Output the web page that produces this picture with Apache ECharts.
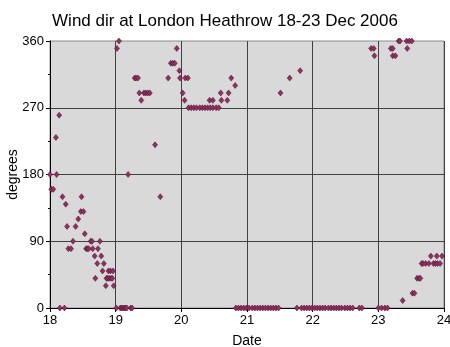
<!DOCTYPE html>
<html>
<head>
<meta charset="utf-8">
<script src="https://cdn.jsdelivr.net/npm/echarts@6/dist/echarts.min.js"></script>
<style>
  html, body { margin: 0; padding: 0; background: #ffffff; }
  #chart { width: 450px; height: 347px; }
</style>
</head>
<body>
<div id="chart"></div>
<script>
// Observation times, as day of December 2006 (decimal days)
const times = [
  18.00, 18.02, 18.05, 18.09, 18.10, 18.14, 18.15, 18.19, 18.22, 18.24,
  18.26, 18.28, 18.32, 18.35, 18.39, 18.43, 18.47, 18.48, 18.51, 18.53,
  18.55, 18.57, 18.59, 18.62, 18.64, 18.65, 18.68, 18.69, 18.72, 18.73,
  18.76, 18.78, 18.80, 18.82, 18.85, 18.86, 18.88, 18.89, 18.90, 18.92,
  18.93, 18.95, 18.96, 18.97, 19.01, 19.02, 19.05, 19.07, 19.09, 19.11,
  19.13, 19.15, 19.17, 19.19, 19.23, 19.25, 19.29, 19.31, 19.34, 19.36,
  19.39, 19.43, 19.46, 19.49, 19.52, 19.60, 19.68, 19.80, 19.84, 19.87,
  19.90, 19.93, 19.97, 19.98, 20.02, 20.05, 20.06, 20.10, 20.11, 20.15,
  20.19, 20.23, 20.28, 20.32, 20.36, 20.40, 20.43, 20.44, 20.48, 20.48,
  20.53, 20.57, 20.60, 20.61, 20.70, 20.72, 20.76, 20.82, 20.83, 20.87,
  20.91, 20.95, 20.99, 21.03, 21.08, 21.12, 21.16, 21.20, 21.24, 21.28,
  21.32, 21.36, 21.40, 21.44, 21.48, 21.51, 21.65, 21.76, 21.81, 21.83,
  21.87, 21.91, 21.95, 21.99, 22.03, 22.07, 22.11, 22.15, 22.19, 22.24,
  22.28, 22.32, 22.36, 22.40, 22.44, 22.49, 22.53, 22.57, 22.61, 22.71,
  22.75, 22.89, 22.93, 22.94, 23.00, 23.05, 23.10, 23.14, 23.19, 23.22,
  23.22, 23.26, 23.31, 23.33, 23.37, 23.43, 23.44, 23.47, 23.51, 23.52,
  23.55, 23.59, 23.62, 23.64, 23.66, 23.68, 23.72, 23.77, 23.80, 23.84,
  23.87, 23.89, 23.90, 23.94, 23.97
];

// Wind direction at each observation (degrees)
const directions = [
  180, 160, 160, 230, 180, 260,   0, 150,   0, 140,
  110,  80,  80,  90, 110, 120, 130, 150, 130, 100,
   80,  80,  80,  90,  90,  80,  70,  40,  60,  80,
   90,  70,  50,  60,  30,  40,  40,  50,  40,  50,
   40,  40,  50,  30,   0, 350, 360,   0,   0,   0,
    0,   0,   0, 180,   0,   0, 310, 310, 310, 290,
  280, 290, 290, 290, 290, 220, 150, 310, 330, 330,
  330, 350, 320, 310, 290, 280, 310, 310, 270, 270,
  270, 270, 270, 270, 270, 270, 280, 270, 280, 270,
  270, 270, 290, 280, 280, 290, 310, 300,   0,   0,
    0,   0,   0,   0,   0,   0,   0,   0,   0,   0,
    0,   0,   0,   0,   0, 290, 310,   0, 320,   0,
    0,   0,   0,   0,   0,   0,   0,   0,   0,   0,
    0,   0,   0,   0,   0,   0,   0,   0,   0,   0,
    0, 350, 350, 340,   0,   0,   0,   0, 350, 350,
  340, 340, 360, 360,  10, 360, 350, 360, 360,  20,
   20,  40,  40,  40,  60,  60,  60,  60,  70,  60,
   60,  70,  60,  60,  70
];

const xTicks = [18, 19, 20, 21, 22, 23, 24];
const yTicks = [0, 90, 180, 270, 360];

const points = times.map((t, i) => [t, directions[i]]);

const chart = echarts.init(document.getElementById('chart'), null, { renderer: 'canvas' });

const font = '"Liberation Sans", Arial, sans-serif';

chart.setOption({
  animation: false,
  backgroundColor: '#ffffff',
  title: {
    text: 'Wind dir at London Heathrow 18-23 Dec 2006',
    left: 'center',
    top: 8,
    textStyle: { fontFamily: font, fontSize: 17, fontWeight: 'normal', color: '#000000' }
  },
  grid: {
    left: 50, right: 6, top: 41, bottom: 39,
    outerBoundsMode: 'none',
    containLabel: false,
    show: true,
    backgroundColor: '#d9d9d9',
    borderColor: '#8c8c8c',
    borderWidth: 1
  },
  xAxis: {
    type: 'value',
    min: xTicks[0],
    max: xTicks[xTicks.length - 1],
    interval: 1,
    name: 'Date',
    nameLocation: 'middle',
    nameGap: 26,
    nameMoveOverlap: false,
    nameTextStyle: { fontFamily: font, fontSize: 14, color: '#000000' },
    axisLine: { show: true, onZero: false, lineStyle: { color: '#000000', width: 1 } },
    axisTick: { show: true, length: 4, lineStyle: { color: '#000000' } },
    axisLabel: { fontFamily: font, fontSize: 13, color: '#000000', margin: 6,
      formatter: v => (xTicks.includes(v) ? String(v) : '') },
    splitLine: { show: true, showMinLine: false, showMaxLine: true,
      lineStyle: { color: '#404040', width: 1 } }
  },
  yAxis: {
    type: 'value',
    min: yTicks[0],
    max: yTicks[yTicks.length - 1],
    interval: 90,
    name: 'degrees',
    nameLocation: 'middle',
    nameGap: 30,
    nameMoveOverlap: false,
    nameTextStyle: { fontFamily: font, fontSize: 14, color: '#000000' },
    axisLine: { show: true, lineStyle: { color: '#000000', width: 1 } },
    axisTick: { show: true, length: 4, lineStyle: { color: '#000000' } },
    minorTick: { show: true, splitNumber: 2, length: 2, lineStyle: { color: '#000000' } },
    axisLabel: { fontFamily: font, fontSize: 13, color: '#000000', margin: 6 },
    splitLine: { show: true, showMinLine: false, showMaxLine: false,
      lineStyle: { color: '#404040', width: 1 } }
  },
  series: [{
    type: 'scatter',
    data: points,
    symbol: 'diamond',
    symbolSize: [5, 6],
    itemStyle: { color: '#962d62', borderColor: '#3b1426', borderWidth: 0.5, opacity: 1 }
  }]
});
</script>
</body>
</html>
